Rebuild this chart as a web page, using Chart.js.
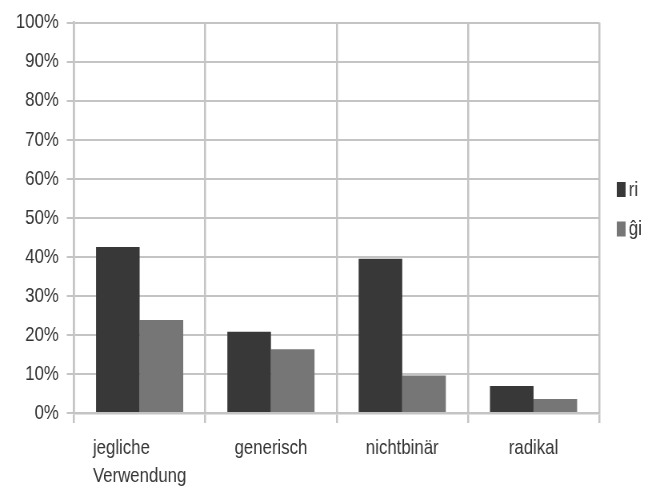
<!DOCTYPE html>
<html>
<head>
<meta charset="utf-8">
<script src="https://cdn.jsdelivr.net/npm/chart.js@4"></script>
<style>
  html, body { margin: 0; padding: 0; background: #fff; overflow: hidden; }
  /* the original export is squeezed horizontally, so the canvas is drawn wider and shown at 648px */
  #barChart { display: block; width: 648px; height: 491px; }
</style>
</head>
<body>
<canvas id="barChart" width="810" height="491" style="width:648px;height:491px"></canvas>
<script>
// Kategorien und Werte (in %)
var categories = [['jegliche', 'Verwendung'], 'generisch', 'nichtbinär', 'radikal'];
var seriesNames = ['ri', 'ĝi'];
var riValues = [42.5, 20.8, 39.5, 6.9];
var giValues = [23.8, 16.3, 9.6, 3.6];
var yTicks = [0, 10, 20, 30, 40, 50, 60, 70, 80, 90, 100];

var fontFam = '"Liberation Sans", Arial, sans-serif';
var textColor = '#333333';
var gridColor = '#c4c4c4';

// mehrzeilige Beschriftung links bündig, Block zentriert
var leftAlignMultiline = {
    id: 'leftAlignMultiline',
    beforeDraw: function(chart) {
        var ctx = chart.ctx;
        chart.scales.x.getLabelItems(chart.chartArea).forEach(function(item) {
            if (Array.isArray(item.label) && item.options.textAlign !== 'left') {
                ctx.save();
                ctx.font = item.font.string;
                var w = Math.max.apply(null, item.label.map(function(t) { return ctx.measureText(t).width; }));
                ctx.restore();
                item.options.translation[0] -= w / 2;
                item.options.textAlign = 'left';
            }
        });
    }
};

// Legende rechts
var sideLegend = {
    id: 'sideLegend',
    afterDraw: function(chart) {
        var ctx = chart.ctx;
        var x = 771, y = 182;
        ctx.save();
        ctx.font = '21px ' + fontFam;
        ctx.textBaseline = 'middle';
        chart.data.datasets.forEach(function(ds, i) {
            var top = y + i * 39.5;
            ctx.fillStyle = ds.backgroundColor;
            ctx.fillRect(x, top, 11, 15);
            ctx.fillStyle = textColor;
            ctx.fillText(ds.label, x + 15, top + 8);
        });
        ctx.restore();
    }
};

document.addEventListener("DOMContentLoaded", function() {

    var barChart = new Chart(document.getElementById('barChart'), {
        type: 'bar',
        data: {
            labels: categories,
            datasets: [{
                label: seriesNames[0],
                data: riValues,
                backgroundColor: '#383838',
                categoryPercentage: 0.664,
                barPercentage: 1.0
            }, {
                label: seriesNames[1],
                data: giValues,
                backgroundColor: '#767676',
                categoryPercentage: 0.664,
                barPercentage: 1.0
            }]
        },
        plugins: [leftAlignMultiline, sideLegend],
        options: {
            responsive: false,
            animation: false,
            devicePixelRatio: 1,
            layout: {
                padding: { top: 15, right: 61, bottom: 0, left: 0 }
            },
            plugins: {
                tooltip: { enabled: false },
                legend: { display: false }
            },
            scales: {
                x: {
                    afterFit: function(scale) { scale.height = 78; },
                    grid: {
                        color: gridColor,
                        lineWidth: 2.5,
                        tickLength: 10,
                        offset: true
                    },
                    border: { color: gridColor, width: 2.5 },
                    ticks: {
                        color: textColor,
                        padding: 11,
                        maxRotation: 0,
                        autoSkip: false,
                        font: { family: fontFam, size: 21, lineHeight: 1.33 }
                    }
                },
                y: {
                    min: 0,
                    max: 100,
                    afterBuildTicks: function(scale) {
                        scale.ticks = yTicks.map(function(v) { return { value: v }; });
                    },
                    afterFit: function(scale) { scale.width = 92.5; },
                    grid: {
                        color: gridColor,
                        lineWidth: 2,
                        tickLength: 9
                    },
                    border: { color: gridColor, width: 2.5 },
                    ticks: {
                        color: textColor,
                        padding: 10,
                        font: { family: fontFam, size: 21 },
                        callback: function(v) { return v + '%'; }
                    }
                }
            }
        }
    });
});
</script>
</body>
</html>
